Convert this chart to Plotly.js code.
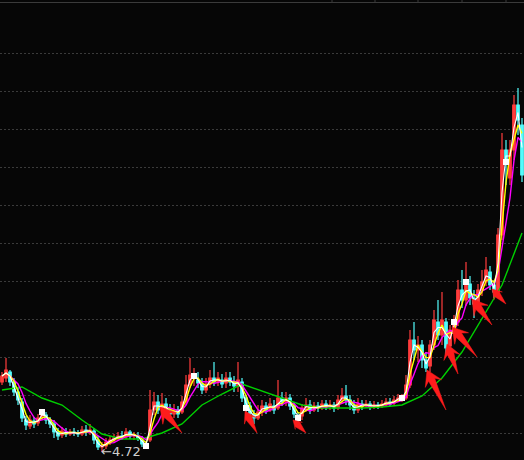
<!DOCTYPE html>
<html>
<head>
<meta charset="utf-8">
<script src="https://cdn.plot.ly/plotly-3.0.1.min.js"></script>
<style>html,body{margin:0;padding:0;background:#060606;}#chart{width:524px;height:460px;}</style>
</head>
<body>
<div id="chart"></div>
<script>
// ---- data (price per bar) ----
const openP  = [5.42,5.46,5.52,5.42,5.32,5.22,5.04,4.98,5.03,5.01,5.07,5.09,5.04,5.00,4.92,4.89,4.92,4.90,4.92,4.91,4.90,4.94,4.92,4.93,4.84,4.77,4.78,4.82,4.84,4.86,4.88,4.87,4.92,4.88,4.88,4.84,4.78,4.84,5.14,5.22,5.16,5.20,5.14,5.10,5.14,5.12,5.22,5.39,5.46,5.44,5.40,5.34,5.40,5.46,5.42,5.44,5.41,5.46,5.42,5.38,5.42,5.26,5.18,5.10,5.06,5.12,5.18,5.14,5.18,5.16,5.26,5.22,5.26,5.18,5.08,5.08,5.16,5.19,5.14,5.18,5.16,5.20,5.17,5.19,5.16,5.24,5.28,5.24,5.19,5.14,5.20,5.18,5.20,5.17,5.19,5.18,5.20,5.22,5.21,5.24,5.26,5.26,5.39,5.84,5.74,5.79,5.64,5.58,5.79,6.02,5.89,6.02,5.78,5.96,6.02,6.34,6.24,6.40,6.26,6.22,6.34,6.42,6.52,6.39,6.32,6.89,7.74,7.46,7.74,8.19,7.99];
const highP  = [5.52,5.66,5.54,5.46,5.36,5.26,5.08,5.09,5.07,5.10,5.14,5.12,5.07,5.04,4.96,4.97,4.96,4.95,4.96,4.94,4.98,4.99,5.00,4.96,4.88,4.82,4.86,4.88,4.90,4.92,4.93,4.96,4.94,4.92,4.92,4.88,4.82,5.34,5.32,5.29,5.31,5.26,5.20,5.20,5.18,5.28,5.49,5.66,5.56,5.52,5.46,5.46,5.54,5.62,5.52,5.50,5.52,5.52,5.48,5.62,5.46,5.29,5.22,5.14,5.19,5.24,5.22,5.26,5.24,5.44,5.32,5.32,5.30,5.22,5.12,5.20,5.26,5.24,5.22,5.22,5.24,5.24,5.24,5.22,5.29,5.36,5.39,5.29,5.24,5.26,5.24,5.24,5.23,5.23,5.22,5.24,5.26,5.26,5.28,5.30,5.30,5.49,5.94,6.02,5.88,5.84,5.72,5.84,6.14,6.24,6.32,6.06,5.99,6.09,6.44,6.54,6.62,6.48,6.34,6.40,6.54,6.67,6.58,6.44,6.96,7.91,7.84,7.84,8.29,8.36,8.06];
const lowP   = [5.39,5.42,5.38,5.28,5.19,5.02,4.94,4.95,4.96,4.98,5.04,5.00,4.96,4.86,4.84,4.86,4.87,4.88,4.88,4.87,4.88,4.88,4.89,4.80,4.74,4.72,4.75,4.79,4.81,4.83,4.84,4.85,4.85,4.84,4.83,4.77,4.75,4.82,5.09,5.10,5.12,5.10,5.06,5.06,5.06,5.10,5.19,5.36,5.38,5.36,5.30,5.31,5.36,5.38,5.38,5.36,5.36,5.38,5.32,5.32,5.22,5.12,5.04,5.00,5.04,5.08,5.10,5.12,5.10,5.14,5.18,5.18,5.14,5.06,5.02,5.04,5.12,5.10,5.12,5.12,5.14,5.14,5.14,5.12,5.14,5.20,5.19,5.14,5.10,5.11,5.14,5.16,5.14,5.15,5.15,5.16,5.17,5.18,5.19,5.22,5.22,5.24,5.36,5.64,5.62,5.56,5.52,5.52,5.74,5.84,5.79,5.69,5.72,5.90,5.98,6.16,6.18,6.19,6.06,6.18,6.28,6.38,6.34,6.26,6.28,6.84,7.39,7.39,7.64,7.89,7.42];
const closeP = [5.48,5.54,5.42,5.32,5.24,5.06,4.99,5.04,5.00,5.06,5.12,5.04,5.00,4.92,4.88,4.93,4.90,4.92,4.91,4.90,4.94,4.92,4.94,4.84,4.77,4.78,4.82,4.84,4.86,4.88,4.87,4.92,4.88,4.89,4.86,4.80,4.78,5.14,5.22,5.14,5.20,5.14,5.10,5.14,5.10,5.22,5.39,5.49,5.48,5.41,5.34,5.40,5.46,5.42,5.46,5.40,5.46,5.42,5.38,5.44,5.26,5.16,5.10,5.06,5.12,5.18,5.14,5.20,5.14,5.26,5.22,5.26,5.18,5.10,5.06,5.16,5.19,5.14,5.18,5.16,5.20,5.17,5.19,5.16,5.24,5.28,5.24,5.19,5.14,5.20,5.18,5.20,5.17,5.19,5.18,5.20,5.22,5.20,5.24,5.26,5.26,5.39,5.84,5.74,5.79,5.64,5.56,5.79,6.04,5.89,6.04,5.76,5.94,6.02,6.34,6.24,6.42,6.26,6.20,6.34,6.42,6.54,6.39,6.32,6.89,7.74,7.62,7.74,8.19,8.04,7.49];
// slow (green) average line, at bar indices
const ma60Idx = [0,5,10,15,20,25,30,35,40,45,50,55,60,65,70,75,80,85,90,95,100,105,110,115,120,125,130];
const ma60Val = [5.34,5.37,5.26,5.19,5.04,4.90,4.85,4.85,4.91,5.00,5.19,5.30,5.40,5.33,5.26,5.19,5.16,5.16,5.16,5.17,5.19,5.28,5.46,5.72,6.06,6.39,6.91];
// bars drawn as white (flat) bars
const dojiIdx = [10,36,48,61,74,100,113,116,126];
// signal arrows: tip (bar index, price) and tail (bar index, price)
const arrowTipIdx  = [39.5,60.75,72.75,106.25,111.25,112.5,117.5,122.5];
const arrowTipVal  = [5.17,5.13,5.04,5.54,5.80,5.97,6.25,6.35];
const arrowTailIdx = [45,63.75,76,111,114,118.75,122.5,126];
const arrowTailVal = [4.91,4.91,4.91,5.14,5.50,5.67,5.99,6.20];
const gridVals = [4.91,5.29,5.67,6.05,6.43,6.81,7.19,7.57,7.95,8.33,8.71];
const lowLabel = '←4.72';

const idx = closeP.map((_, i) => i);
function rolling(arr, n) {
  return arr.map((_, i) => {
    const s = arr.slice(Math.max(0, i - n + 1), i + 1);
    return s.reduce((a, b) => a + b, 0) / s.length;
  });
}
const X0 = -0.5, X1 = closeP.length - 0.5, Y0 = 4.64, Y1 = 9.24;
const W = 524, H = 460;
const sx = W / (X1 - X0), sy = H / (Y1 - Y0);

const traces = [];
traces.push({
  type: 'candlestick', x: idx, open: openP, high: highP, low: lowP, close: closeP,
  increasing: {line: {color: '#ff3c3c', width: 1.2}, fillcolor: '#ff3c3c'},
  decreasing: {line: {color: '#54fcfc', width: 1.2}, fillcolor: '#54fcfc'},
  whiskerwidth: 0, hoverinfo: 'skip', showlegend: false
});
traces.push({type:'scatter', mode:'lines', x: ma60Idx, y: ma60Val, line:{color:'#00d000', width:1.4}, hoverinfo:'skip'});
traces.push({type:'scatter', mode:'lines', x: idx, y: rolling(closeP, 5), line:{color:'#ff00ff', width:1.4}, hoverinfo:'skip'});
traces.push({type:'scatter', mode:'lines', x: idx, y: rolling(closeP, 3), line:{color:'#ffff00', width:1.4}, hoverinfo:'skip'});
traces.push({type:'scatter', mode:'lines', x: idx, y: rolling(closeP, 2), line:{color:'#ffffff', width:1.1}, hoverinfo:'skip'});
traces.push({type:'scatter', mode:'markers', x: dojiIdx, y: dojiIdx.map(i => closeP[i]),
  marker:{symbol:'square', size:6, color:'#ffffff'}, hoverinfo:'skip'});

// arrows as filled pointer shapes
for (let k = 0; k < arrowTipIdx.length; k++) {
  const ti = arrowTipIdx[k], tp = arrowTipVal[k];
  const dx = (arrowTailIdx[k] - ti) * sx, dy = -(arrowTailVal[k] - tp) * sy;
  const L = Math.hypot(dx, dy);
  const ux = dx / L, uy = dy / L, nx = -uy, ny = ux;
  const hl = Math.min(15, 0.45 * L), hw = hl * 0.6, nl = hl * 0.72, nw = 3.4;
  const pts = [[0,0],[hl,hw],[nl,nw],[L,0],[nl,-nw],[hl,-hw],[0,0]];
  const xs = [], ys = [];
  pts.forEach(([a, c]) => {
    const px = a * ux + c * nx, py = a * uy + c * ny;
    xs.push(ti + px / sx); ys.push(tp - py / sy);
  });
  traces.push({type:'scatter', mode:'lines', x: xs, y: ys, fill:'toself', fillcolor:'#ff1c1c',
    line:{color:'#ff1c1c', width:0.5}, hoverinfo:'skip'});
}

let minI = 0;
lowP.forEach((v, i) => { if (v < lowP[minI]) minI = i; });

const topTicks = [332, 375, 418, 462, 506];
const shapes = [{type:'line', xref:'paper', yref:'paper', x0:0, x1:1, y0:1 - 2.5/H, y1:1 - 2.5/H, line:{color:'#3a3a3a', width:1}}];
topTicks.forEach(p => shapes.push({type:'line', xref:'paper', yref:'paper', x0:p/W, x1:p/W, y0:1 - 2.5/H, y1:1, line:{color:'#3a3a3a', width:1}}));

const layout = {
  width: W, height: H, margin: {l:0, r:0, t:0, b:0},
  paper_bgcolor: '#060606', plot_bgcolor: '#060606', showlegend: false,
  boxgap: 0.1,
  xaxis: {range:[X0, X1], showgrid:false, zeroline:false, showticklabels:false, ticks:'', rangeslider:{visible:false}, fixedrange:true},
  yaxis: {range:[Y0, Y1], tickmode:'array', tickvals: gridVals, showgrid:true, gridcolor:'#3a3a3a', griddash:'2px,2px', gridwidth:1,
    zeroline:false, showticklabels:false, ticks:'', fixedrange:true},
  shapes: shapes,
  annotations: [{x: minI, y: lowP[minI], text: lowLabel, showarrow:false, xanchor:'left', yanchor:'middle', xshift:-3, yshift:1,
    font:{family:'DejaVu Sans, sans-serif', size:13, color:'#cfcfcf'}}]
};
Plotly.newPlot('chart', traces, layout, {staticPlot:true, displayModeBar:false});
</script>
</body>
</html>
